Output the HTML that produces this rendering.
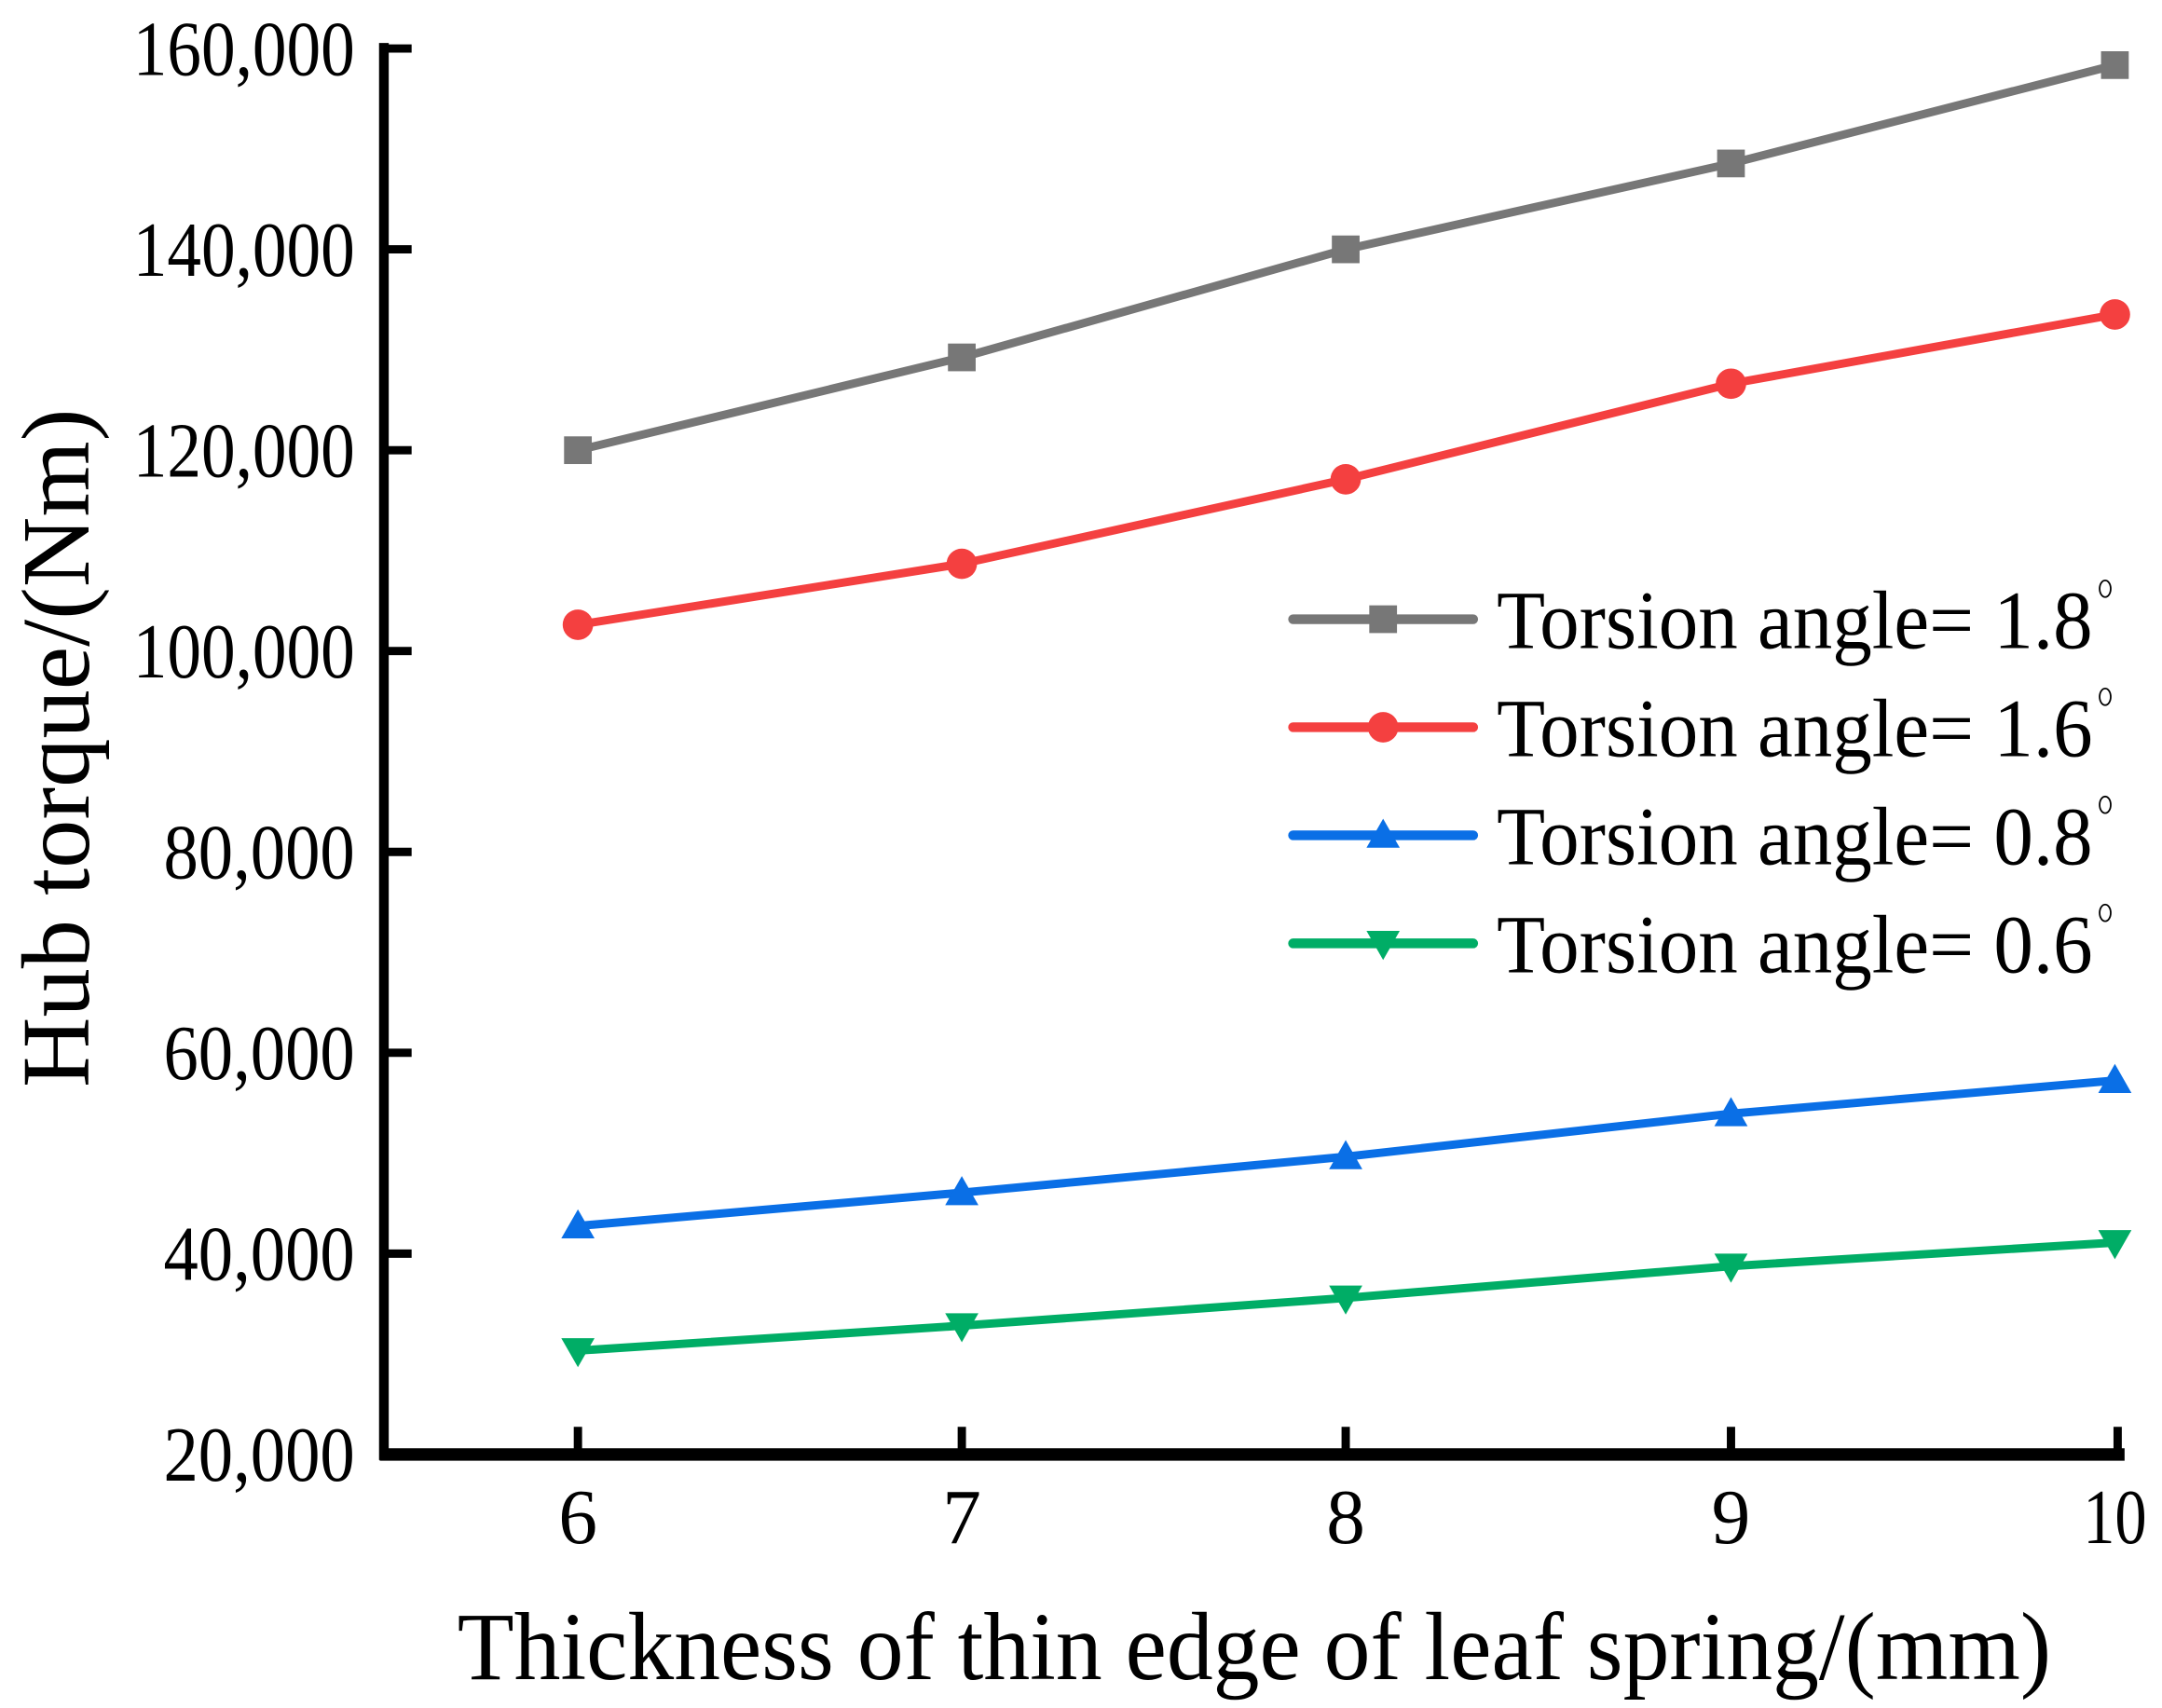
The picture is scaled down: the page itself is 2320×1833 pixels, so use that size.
<!DOCTYPE html>
<html><head><meta charset="utf-8"><style>html,body{margin:0;padding:0;background:#fff}svg{display:block}</style></head><body>
<svg width="2320" height="1833" viewBox="0 0 1560 1233" preserveAspectRatio="none" xmlns="http://www.w3.org/2000/svg" font-family="Liberation Serif, serif">
<g stroke="#000" stroke-width="7" fill="none">
<line x1="277" y1="31" x2="277" y2="1054"/>
<line x1="274" y1="1050" x2="1533" y2="1050" stroke-width="9"/>
<g stroke-width="6">
<line x1="277" y1="35" x2="297" y2="35"/><line x1="277" y1="180" x2="297" y2="180"/><line x1="277" y1="325" x2="297" y2="325"/><line x1="277" y1="470" x2="297" y2="470"/><line x1="277" y1="615" x2="297" y2="615"/><line x1="277" y1="760" x2="297" y2="760"/><line x1="277" y1="905" x2="297" y2="905"/>
<line x1="417" y1="1050" x2="417" y2="1030"/><line x1="694" y1="1050" x2="694" y2="1030"/><line x1="971" y1="1050" x2="971" y2="1030"/><line x1="1249" y1="1050" x2="1249" y2="1030"/><line x1="1528" y1="1050" x2="1528" y2="1030"/>
</g></g>
<g font-size="56" text-anchor="end" fill="#000">
<text x="256" y="54" textLength="160" lengthAdjust="spacingAndGlyphs">160,000</text><text x="256" y="199" textLength="160" lengthAdjust="spacingAndGlyphs">140,000</text><text x="256" y="344" textLength="160" lengthAdjust="spacingAndGlyphs">120,000</text><text x="256" y="489" textLength="160" lengthAdjust="spacingAndGlyphs">100,000</text><text x="256" y="634" textLength="138" lengthAdjust="spacingAndGlyphs">80,000</text><text x="256" y="779" textLength="138" lengthAdjust="spacingAndGlyphs">60,000</text><text x="256" y="924" textLength="138" lengthAdjust="spacingAndGlyphs">40,000</text><text x="256" y="1069" textLength="138" lengthAdjust="spacingAndGlyphs">20,000</text>
</g>
<g font-size="56" text-anchor="middle" fill="#000">
<text x="417" y="1114">6</text><text x="694" y="1114">7</text><text x="971" y="1114">8</text><text x="1249" y="1114">9</text><text x="1526" y="1114" textLength="46" lengthAdjust="spacingAndGlyphs">10</text>
</g>
<text x="905" y="1212" font-size="70" text-anchor="middle" textLength="1150" lengthAdjust="spacingAndGlyphs">Thickness of thin edge of leaf spring/(mm)</text>
<text transform="translate(64,540) rotate(-90)" font-size="70" text-anchor="middle" textLength="490" lengthAdjust="spacingAndGlyphs">Hub torque/(Nm)</text>
<g fill="none" stroke-width="6" stroke-linejoin="round">
<polyline stroke="#777" points="417,325 694,258 971,180 1249,118 1526,47"/>
<polyline stroke="#f44040" points="417,451 694,407 971,346 1249,277 1526,227"/>
<polyline stroke="#0a6fe6" points="417,885 694,861 971,835 1249,804 1526,780"/>
<polyline stroke="#00ad66" points="417,975 694,957 971,937 1249,914 1526,897"/>
</g>
<g fill="#777"><rect x="407" y="315" width="20" height="20"/><rect x="684" y="248" width="20" height="20"/><rect x="961" y="170" width="20" height="20"/><rect x="1239" y="108" width="20" height="20"/><rect x="1516" y="37" width="20" height="20"/></g>
<g fill="#f44040"><circle cx="417" cy="451" r="11"/><circle cx="694" cy="407" r="11"/><circle cx="971" cy="346" r="11"/><circle cx="1249" cy="277" r="11"/><circle cx="1526" cy="227" r="11"/></g>
<g fill="#0a6fe6"><path d="M417,873 l12,21 h-24z"/><path d="M694,849 l12,21 h-24z"/><path d="M971,823 l12,21 h-24z"/><path d="M1249,792 l12,21 h-24z"/><path d="M1526,768 l12,21 h-24z"/></g>
<g fill="#00ad66"><path d="M417,987 l12,-21 h-24z"/><path d="M694,969 l12,-21 h-24z"/><path d="M971,949 l12,-21 h-24z"/><path d="M1249,926 l12,-21 h-24z"/><path d="M1526,909 l12,-21 h-24z"/></g>
<g stroke-width="7" stroke-linecap="round">
<line x1="933" y1="447" x2="1063" y2="447" stroke="#777"/>
<line x1="933" y1="525" x2="1063" y2="525" stroke="#f44040"/>
<line x1="933" y1="603" x2="1063" y2="603" stroke="#0a6fe6"/>
<line x1="933" y1="681" x2="1063" y2="681" stroke="#00ad66"/>
</g>
<rect x="988" y="437" width="20" height="20" fill="#777"/>
<circle cx="998" cy="525" r="11" fill="#f44040"/>
<path d="M998,591 l12,21 h-24z" fill="#0a6fe6"/>
<path d="M998,693 l12,-21 h-24z" fill="#00ad66"/>
<g font-size="60" fill="#000">
<text x="1080" y="468" textLength="430" lengthAdjust="spacingAndGlyphs">Torsion angle= 1.8</text>
<text x="1080" y="546" textLength="430" lengthAdjust="spacingAndGlyphs">Torsion angle= 1.6</text>
<text x="1080" y="624" textLength="430" lengthAdjust="spacingAndGlyphs">Torsion angle= 0.8</text>
<text x="1080" y="702" textLength="430" lengthAdjust="spacingAndGlyphs">Torsion angle= 0.6</text>
</g>
<g fill="none" stroke="#000" stroke-width="1.2">
<ellipse cx="1519" cy="425" rx="4" ry="6"/><ellipse cx="1519" cy="503" rx="4" ry="6"/><ellipse cx="1519" cy="581" rx="4" ry="6"/><ellipse cx="1519" cy="659" rx="4" ry="6"/>
</g>
</svg>
</body></html>
